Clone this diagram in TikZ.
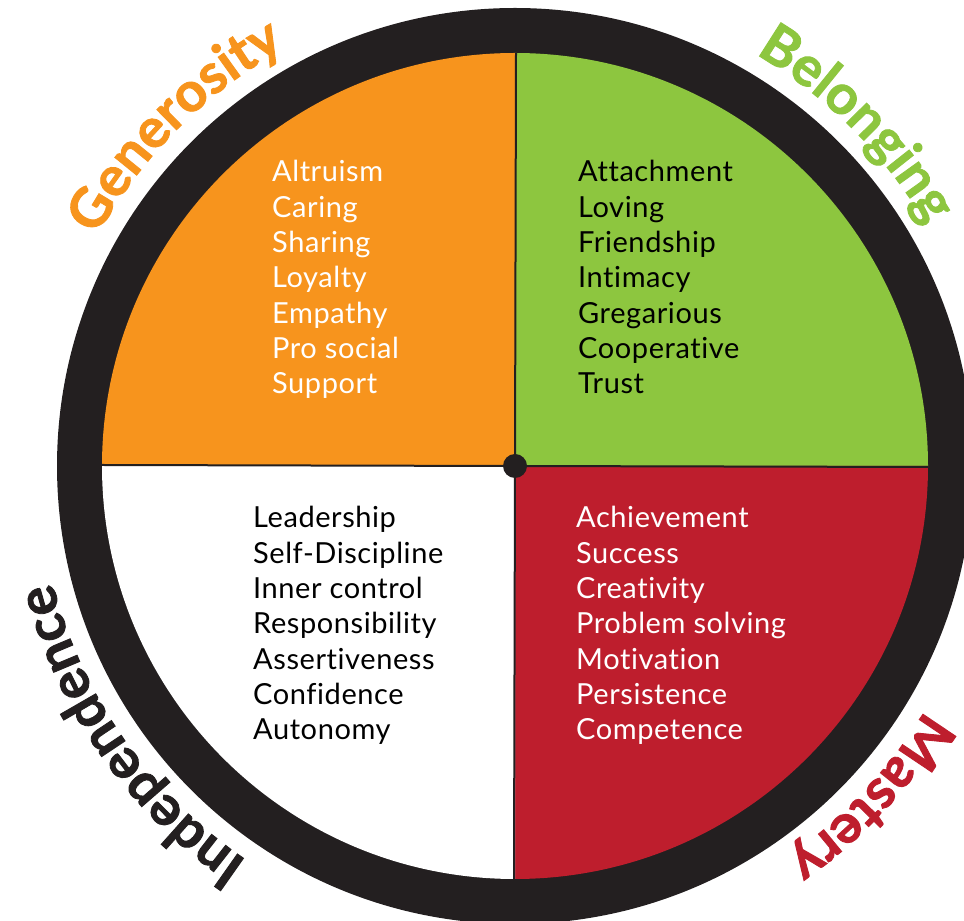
\documentclass[tikz,border=0pt]{standalone}
\usepackage{fontspec}
\setmainfont{Lato}[Ligatures={NoCommon}]
\newfontfamily\lblfam{Lato}[Ligatures={NoCommon}, BoldFeatures={FakeBold=1.6}]
\usetikzlibrary{decorations.text}
\definecolor{ringc}{HTML}{231F20}
\definecolor{orangec}{HTML}{F7941D}
\definecolor{greenc}{HTML}{8DC63F}
\definecolor{redc}{HTML}{BE1E2D}
\newcommand\lblfnt{\lblfam\fontsize{55}{55}\selectfont\bfseries}
\begin{document}
\begin{tikzpicture}[x=1pt,y=1pt,
  item/.style={anchor=base west, inner sep=0pt, font=\fontsize{29}{29}\selectfont\addfontfeatures{LetterSpace=2}},
  divider/.style={draw=ringc, line width=2pt}]
\useasboundingbox (0,0) rectangle (964,921);
\coordinate (C) at (515,455);
% ring
\fill[ringc] (C) circle[radius=458pt];
% quadrants
\fill[orangec] (C) -- ++(180:413pt) arc[start angle=180,end angle=90,radius=413pt] -- cycle;
\fill[greenc] (C) -- ++(90:413pt) arc[start angle=90,end angle=0,radius=413pt] -- cycle;
\fill[redc] (C) -- ++(0:413pt) arc[start angle=0,end angle=-90,radius=413pt] -- cycle;
\fill[white] (C) -- ++(-90:413pt) arc[start angle=-90,end angle=-180,radius=413pt] -- cycle;
% dividers
\coordinate (T) at (516,868);
\coordinate (B) at (514,42);
\coordinate (L) at (102,456);
\coordinate (R) at (928,454);
\path[divider] (T) -- (B);
\path[divider] (L) -- (R);
\fill[ringc] (C) circle[radius=12pt];
% curved labels
\path[decorate, decoration={text along path, text align=center,
  text={|\lblfnt\color{orangec}|Generosity}}]
  (C) ++(165:477pt) arc[start angle=165, end angle=105, radius=477pt];
\path[decorate, decoration={text along path, text align=center,
  text={|\lblfnt\color{greenc}|Belonging}}]
  (C) ++(75:477pt) arc[start angle=75, end angle=15, radius=477pt];
\path[decorate, decoration={text along path, text align=center,
  text={|\lblfnt\color{redc}|Mastery}}]
  (C) ++(-13:477pt) arc[start angle=-13, end angle=-73, radius=477pt];
\path[decorate, decoration={text along path, text align=center,
  text={|\lblfnt\color{ringc}|Independence}}]
  (C) ++(250:477pt) arc[start angle=250, end angle=180, radius=477pt];
% lists
\foreach \t [count=\i] in {Altruism,Caring,Sharing,Loyalty,Empathy,Pro social,Support}
  \node[item, text=white] (g\i) at (272,{921-182-35.3*(\i-1)}) {\t};
\foreach \t [count=\i] in {Attachment,Loving,Friendship,Intimacy,Gregarious,Cooperative,Trust}
  \node[item, text=black] (b\i) at (578,{921-182-35.3*(\i-1)}) {\t};
\foreach \t [count=\i] in {Leadership,Self-Discipline,Inner control,Responsibility,Assertiveness,Confidence,Autonomy}
  \node[item, text=black] (n\i) at (253,{921-528-35.3*(\i-1)}) {\t};
\foreach \t [count=\i] in {Achievement,Success,Creativity,Problem solving,Motivation,Persistence,Competence}
  \node[item, text=white] (m\i) at (576,{921-528-35.3*(\i-1)}) {\t};
\end{tikzpicture}
\end{document}
